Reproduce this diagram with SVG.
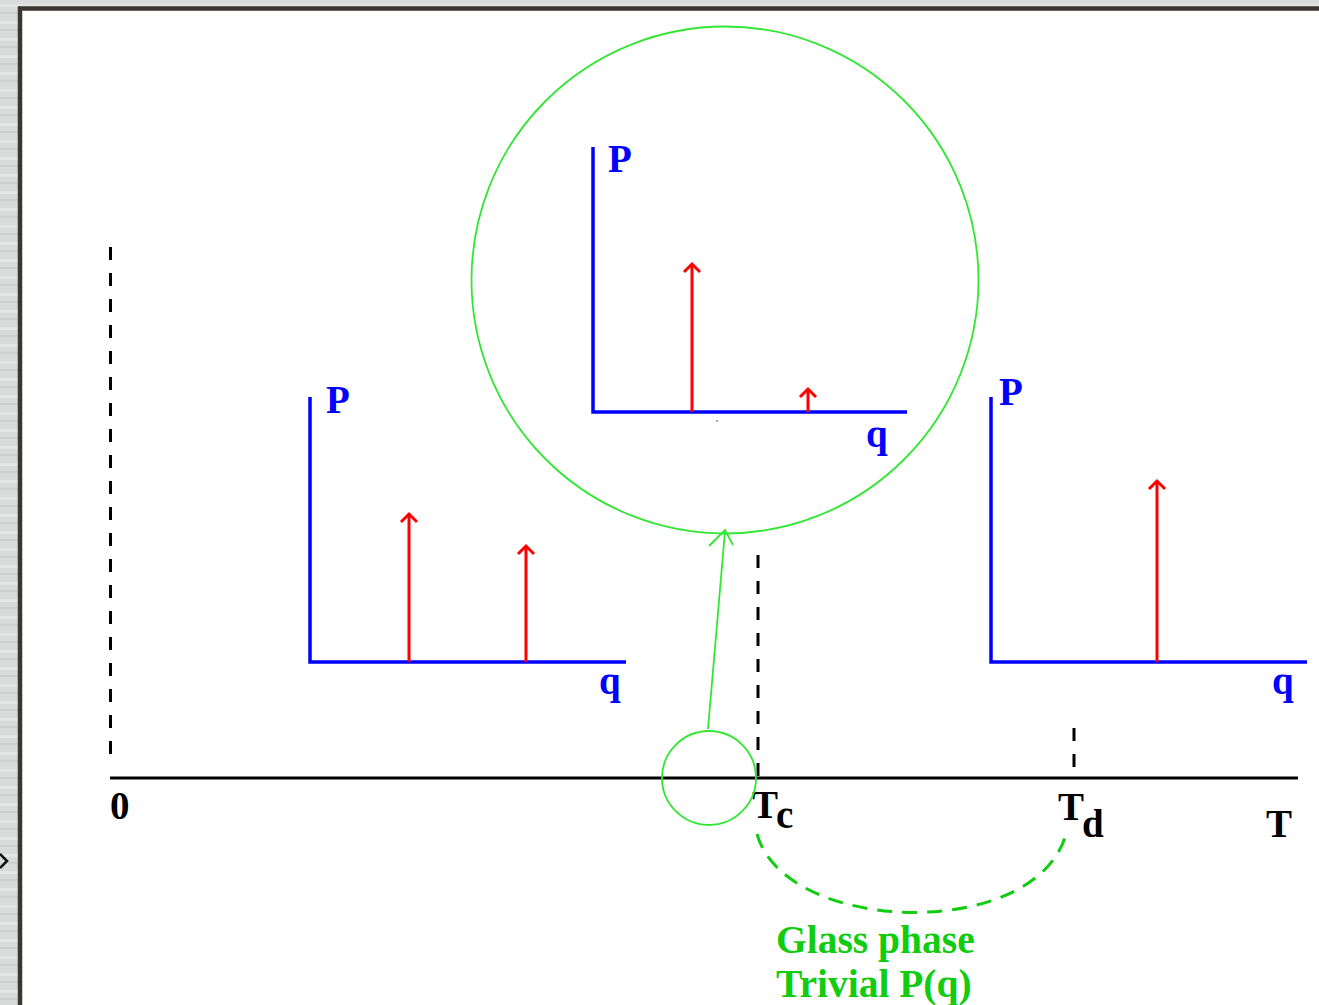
<svg xmlns="http://www.w3.org/2000/svg" width="1319" height="1005" viewBox="0 0 1319 1005">
  <defs>
    <pattern id="streaks" width="20" height="17" patternUnits="userSpaceOnUse">
      <rect width="20" height="17" fill="#d9dbdb"/>
      <rect y="4" width="20" height="3" fill="#e4e6e6"/>
      <rect y="12" width="20" height="2" fill="#cdd0d0"/>
    </pattern>
    <style>
      .lbl { font-family: "Liberation Serif", "Times New Roman", serif; font-weight: bold; font-size: 39px; }
      .blue { fill: #0000ff; }
      .blk { fill: #000000; }
      .grn { fill: #11cc11; font-size: 39.5px; }
      .ax { stroke: #0000ff; stroke-width: 3.5; fill: none; }
      .spike { stroke: #ff0000; stroke-width: 3; fill: none; }
      .dash { stroke: #000000; stroke-width: 3; stroke-dasharray: 13 13; fill: none; }
      .circ { stroke: #33e633; stroke-width: 1.8; fill: none; }
    </style>
  </defs>

  <!-- page background and frame -->
  <rect x="0" y="0" width="1319" height="1005" fill="url(#streaks)"/>
  <rect x="20" y="8.5" width="1320" height="1010" fill="#ffffff" stroke="#3d3533" stroke-width="4.5"/>
  <polyline points="0,854 7,861 0,868" fill="none" stroke="#111111" stroke-width="2.5"/>

  <!-- temperature axis -->
  <g id="t-axis">
    <line x1="110" y1="778" x2="1298" y2="778" stroke="#000" stroke-width="3"/>
    <line class="dash" x1="110.5" y1="247" x2="110.5" y2="766"/>
    <text class="lbl blk" x="110" y="819">0</text>
  </g>

  <g id="tc-mark">
    <line class="dash" x1="758" y1="555" x2="758" y2="778"/>
    <text class="lbl blk" x="752" y="818">T</text>
    <text class="lbl blk" x="776" y="828">c</text>
  </g>

  <g id="td-mark">
    <line class="dash" x1="1074" y1="728" x2="1074" y2="769"/>
    <text class="lbl blk" x="1058" y="820">T</text>
    <text class="lbl blk" x="1082" y="837">d</text>
  </g>

  <g id="t-label">
    <text class="lbl blk" x="1266" y="837">T</text>
  </g>

  <!-- left plot -->
  <g id="plot-left">
    <polyline class="ax" points="310,397 310,662 626,662"/>
    <text class="lbl blue" x="326" y="413">P</text>
    <text class="lbl blue" x="599" y="694">q</text>
    <line class="spike" x1="409" y1="662" x2="409" y2="514"/>
    <polyline class="spike" points="401,522 409,514 417,522"/>
    <line class="spike" x1="526" y1="662" x2="526" y2="546"/>
    <polyline class="spike" points="518,554 526,546 534,554"/>
  </g>

  <!-- middle plot (zoomed) -->
  <g id="plot-middle">
    <polyline class="ax" points="593,147 593,412 907,412"/>
    <text class="lbl blue" x="608" y="172">P</text>
    <text class="lbl blue" x="866" y="447">q</text>
    <line class="spike" x1="692" y1="412" x2="692" y2="264"/>
    <polyline class="spike" points="684,272 692,264 700,272"/>
    <line class="spike" x1="808" y1="412" x2="808" y2="389"/>
    <polyline class="spike" points="800,397 808,389 816,397"/>
    <circle cx="717" cy="421" r="0.8" fill="#333"/>
  </g>

  <!-- right plot -->
  <g id="plot-right">
    <polyline class="ax" points="991,397 991,662 1307,662"/>
    <text class="lbl blue" x="999" y="405">P</text>
    <text class="lbl blue" x="1272" y="694">q</text>
    <line class="spike" x1="1157" y1="662" x2="1157" y2="481"/>
    <polyline class="spike" points="1149,489 1157,481 1165,489"/>
  </g>

  <!-- zoom circles -->
  <g id="zoom-big">
    <circle class="circ" cx="725" cy="280" r="253.5"/>
  </g>
  <g id="zoom-small">
    <circle class="circ" cx="709" cy="778" r="47"/>
  </g>

  <!-- connectors -->
  <g id="connectors">
    <line x1="708" y1="729" x2="725" y2="531" stroke="#33e633" stroke-width="1.8"/>
    <polyline points="709,546 725,530 733,545" fill="none" stroke="#33e633" stroke-width="1.8"/>
    <path d="M757,834 C785,935 1036,942 1066,834" fill="none" stroke="#11cc11" stroke-width="3" stroke-dasharray="15 10"/>
  </g>

  <g id="glass-label">
    <text class="lbl grn" x="776" y="953">Glass phase</text>
    <text class="lbl grn" x="776" y="997">Trivial P(q)</text>
  </g>
</svg>
